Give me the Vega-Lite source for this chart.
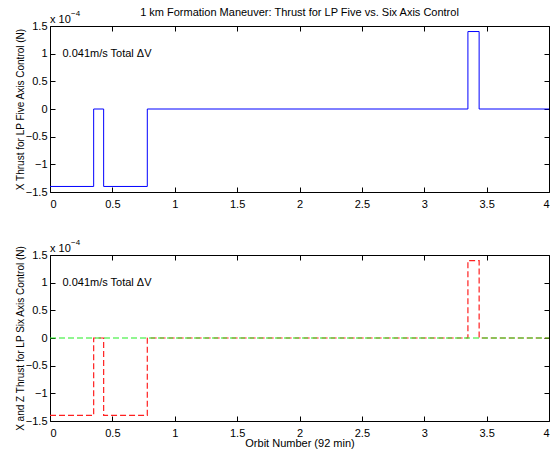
{
  "$schema": "https://vega.github.io/schema/vega-lite/v6.json",
  "autosize": {"type": "pad"},
  "padding": {"left": 14, "top": 6, "right": 0, "bottom": 0},
  "background": "white",
  "config": {
    "font": "Liberation Sans",
    "view": {"stroke": "black", "strokeWidth": 1},
    "axis": {
      "grid": false,
      "domain": false,
      "tickColor": "black",
      "tickSize": -5,
      "tickWidth": 1,
      "labelColor": "black",
      "labelFontSize": 11,
      "labelFont": "Liberation Sans",
      "titleFont": "Liberation Sans",
      "titleFontSize": 11,
      "titleFontWeight": "normal",
      "titleColor": "black",
      "labelPadding": 8,
      "titlePadding": 0,
      "minExtent": 0
    },
    "axisY": {"minExtent": 0, "titleFontSize": 10},
    "axisX": {"labelPadding": 11, "titlePadding": -1, "minExtent": 0}
  },
  "datasets": {
    "five": [
      {"orbit": 0, "thrust": -1.4},
      {"orbit": 0.35, "thrust": 0},
      {"orbit": 0.43, "thrust": -1.4},
      {"orbit": 0.78, "thrust": 0},
      {"orbit": 3.35, "thrust": 1.4},
      {"orbit": 3.44, "thrust": 0},
      {"orbit": 4, "thrust": 0}
    ],
    "sixX": [
      {"orbit": 0, "thrust": -1.4},
      {"orbit": 0.35, "thrust": 0},
      {"orbit": 0.43, "thrust": -1.4},
      {"orbit": 0.78, "thrust": 0},
      {"orbit": 3.35, "thrust": 1.4},
      {"orbit": 3.44, "thrust": 0},
      {"orbit": 4, "thrust": 0}
    ],
    "sixZ": [
      {"orbit": 0, "thrust": 0},
      {"orbit": 4, "thrust": 0}
    ]
  },
  "spacing": 63,
  "bounds": "flush",
  "vconcat": [
    {
      "width": 499,
      "height": 166,
      "title": {
        "text": "1 km Formation Maneuver: Thrust for LP Five vs. Six Axis Control",
        "frame": "group",
        "anchor": "middle",
        "fontSize": 11,
        "fontWeight": "normal",
        "font": "Liberation Sans",
        "color": "black",
        "baseline": "alphabetic",
        "offset": -17
      },
      "resolve": {"axis": {"x": "independent", "y": "independent"}},
      "layer": [
        {
          "data": {"name": "five"},
          "mark": {"type": "line", "interpolate": "step-after", "color": "#0000ff", "strokeWidth": 1},
          "encoding": {
            "x": {"field": "orbit", "type": "quantitative", "scale": {"domain": [0, 4], "nice": false},
                  "axis": {"values": [0, 0.5, 1, 1.5, 2, 2.5, 3, 3.5, 4], "format": "~g", "title": null}},
            "y": {"field": "thrust", "type": "quantitative", "scale": {"domain": [-1.5, 1.5], "nice": false},
                  "axis": {"values": [-1.5, -1, -0.5, 0, 0.5, 1, 1.5], "format": "~g", "title": "X Thrust for LP Five Axis Control (N)"}}
          }
        },
        {
          "data": {"values": [{"orbit": 0.1, "thrust": 1, "label": "0.041m/s Total ΔV"}]},
          "mark": {"type": "text", "align": "left", "baseline": "middle", "fontSize": 11, "color": "black"},
          "encoding": {
            "x": {"field": "orbit", "type": "quantitative", "scale": {"domain": [0, 4], "nice": false},
                  "axis": {"orient": "top", "labels": false, "title": null, "labelPadding": 0, "values": [0, 0.5, 1, 1.5, 2, 2.5, 3, 3.5, 4]}},
            "y": {"field": "thrust", "type": "quantitative", "scale": {"domain": [-1.5, 1.5], "nice": false},
                  "axis": {"orient": "right", "labels": false, "title": null, "labelPadding": 0, "values": [-1.5, -1, -0.5, 0, 0.5, 1, 1.5]}},
            "text": {"field": "label"}
          }
        },
        {
          "data": {"values": [{"orbit": 0, "thrust": 1.5, "label": "x 10"}]},
          "mark": {"type": "text", "align": "left", "baseline": "bottom", "dy": -1, "fontSize": 11, "color": "black"},
          "encoding": {
            "x": {"field": "orbit", "type": "quantitative", "scale": {"domain": [0, 4], "nice": false}, "axis": null},
            "y": {"field": "thrust", "type": "quantitative", "scale": {"domain": [-1.5, 1.5], "nice": false}, "axis": null},
            "text": {"field": "label"}
          }
        },
        {
          "data": {"values": [{"orbit": 0, "thrust": 1.5, "label": "−4"}]},
          "mark": {"type": "text", "align": "left", "baseline": "bottom", "dx": 21, "dy": -8, "fontSize": 8, "color": "black"},
          "encoding": {
            "x": {"field": "orbit", "type": "quantitative", "scale": {"domain": [0, 4], "nice": false}, "axis": null},
            "y": {"field": "thrust", "type": "quantitative", "scale": {"domain": [-1.5, 1.5], "nice": false}, "axis": null},
            "text": {"field": "label"}
          }
        }
      ]
    },
    {
      "width": 499,
      "height": 166,
      "resolve": {"axis": {"x": "independent", "y": "independent"}},
      "layer": [
        {
          "data": {"name": "sixX"},
          "mark": {"type": "line", "interpolate": "step-after", "color": "#ff2020", "strokeWidth": 1.2, "strokeDash": [6, 3]},
          "encoding": {
            "x": {"field": "orbit", "type": "quantitative", "scale": {"domain": [0, 4], "nice": false},
                  "axis": {"values": [0, 0.5, 1, 1.5, 2, 2.5, 3, 3.5, 4], "format": "~g", "title": "Orbit Number (92 min)"}},
            "y": {"field": "thrust", "type": "quantitative", "scale": {"domain": [-1.5, 1.5], "nice": false},
                  "axis": {"values": [-1.5, -1, -0.5, 0, 0.5, 1, 1.5], "format": "~g", "title": "X and Z Thrust for LP Six Axis Control (N)"}}
          }
        },
        {
          "data": {"name": "sixZ"},
          "mark": {"type": "line", "color": "#22ee22", "strokeWidth": 1.2, "strokeDash": [6, 3]},
          "encoding": {
            "x": {"field": "orbit", "type": "quantitative", "scale": {"domain": [0, 4], "nice": false}, "axis": null},
            "y": {"field": "thrust", "type": "quantitative", "scale": {"domain": [-1.5, 1.5], "nice": false}, "axis": null}
          }
        },
        {
          "data": {"values": [{"orbit": 0.1, "thrust": 1, "label": "0.041m/s Total ΔV"}]},
          "mark": {"type": "text", "align": "left", "baseline": "middle", "fontSize": 11, "color": "black"},
          "encoding": {
            "x": {"field": "orbit", "type": "quantitative", "scale": {"domain": [0, 4], "nice": false},
                  "axis": {"orient": "top", "labels": false, "title": null, "labelPadding": 0, "values": [0, 0.5, 1, 1.5, 2, 2.5, 3, 3.5, 4]}},
            "y": {"field": "thrust", "type": "quantitative", "scale": {"domain": [-1.5, 1.5], "nice": false},
                  "axis": {"orient": "right", "labels": false, "title": null, "labelPadding": 0, "values": [-1.5, -1, -0.5, 0, 0.5, 1, 1.5]}},
            "text": {"field": "label"}
          }
        },
        {
          "data": {"values": [{"orbit": 0, "thrust": 1.5, "label": "x 10"}]},
          "mark": {"type": "text", "align": "left", "baseline": "bottom", "dy": -1, "fontSize": 11, "color": "black"},
          "encoding": {
            "x": {"field": "orbit", "type": "quantitative", "scale": {"domain": [0, 4], "nice": false}, "axis": null},
            "y": {"field": "thrust", "type": "quantitative", "scale": {"domain": [-1.5, 1.5], "nice": false}, "axis": null},
            "text": {"field": "label"}
          }
        },
        {
          "data": {"values": [{"orbit": 0, "thrust": 1.5, "label": "−4"}]},
          "mark": {"type": "text", "align": "left", "baseline": "bottom", "dx": 21, "dy": -8, "fontSize": 8, "color": "black"},
          "encoding": {
            "x": {"field": "orbit", "type": "quantitative", "scale": {"domain": [0, 4], "nice": false}, "axis": null},
            "y": {"field": "thrust", "type": "quantitative", "scale": {"domain": [-1.5, 1.5], "nice": false}, "axis": null},
            "text": {"field": "label"}
          }
        }
      ]
    }
  ]
}
